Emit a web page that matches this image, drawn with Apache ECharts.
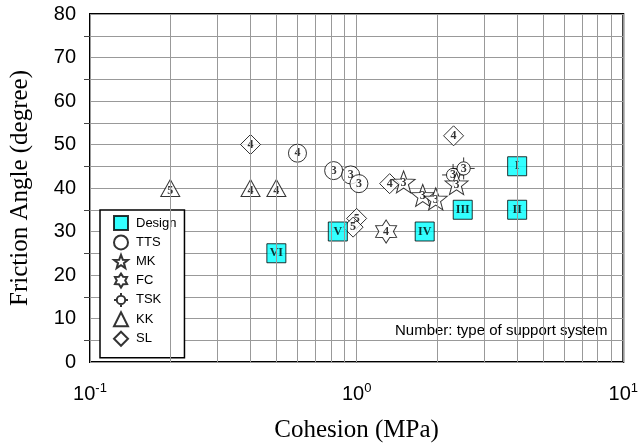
<!DOCTYPE html>
<html>
<head>
<meta charset="utf-8">
<script src="https://cdn.jsdelivr.net/npm/echarts@6/dist/echarts.min.js"></script>
<style>
  html, body { margin: 0; padding: 0; background: #fff; }
  #chart { width: 641px; height: 448px; }
</style>
</head>
<body>
<div id="chart"></div>
<script>
// Cohesion (MPa) vs friction angle (degree) for each support design and method
const designX = [4, 4, 2.5, 1.8, 0.85, 0.5];
const designY = [45, 35, 35, 30, 30, 25];
const designLabel = ['I', 'II', 'III', 'IV', 'V', 'VI'];

const ttsX = [0.6, 0.82, 0.95, 1.02];
const ttsY = [48, 44, 43, 41];
const ttsLabel = ['4', '3', '3', '3'];

const mkX = [1.5, 1.77, 1.98, 2.37];
const mkY = [41.4, 38.3, 37.5, 41];
const mkLabel = ['3', '3', '3', '3'];

const fcX = [1.29];
const fcY = [30];
const fcLabel = ['4'];

const tskX = [2.3, 2.52];
const tskY = [43, 44.5];
const tskLabel = ['3', '3'];

const kkX = [0.2, 0.4, 0.5];
const kkY = [40, 40, 40];
const kkLabel = ['5', '4', '4'];

const slX = [0.4, 2.31, 1.33, 1.0, 0.97];
const slY = [50, 52, 41, 33, 31];
const slLabel = ['4', '4', '4', '5', '5'];

// log-axis minor grid positions
const minorX = [0.2, 0.3, 0.4, 0.5, 0.6, 0.7, 0.8, 0.9, 2, 3, 4, 5, 6, 7, 8, 9];

function pts(xs, ys, ls) {
  return xs.map((x, i) => [x, ys[i], ls[i]]);
}

function starPath(n, rOut, rIn) {
  let d = '';
  for (let i = 0; i < 2 * n; i++) {
    const r = i % 2 === 0 ? rOut : rIn;
    const a = -Math.PI / 2 + i * Math.PI / n;
    d += (i === 0 ? 'M' : 'L') + (r * Math.cos(a)).toFixed(3) + ',' + (r * Math.sin(a)).toFixed(3) + ' ';
  }
  return 'path://' + d + 'Z';
}

const STAR5 = starPath(5, 10, 4.2);
const STAR6 = starPath(6, 10, 6);
const TSK = 'path://M4,10 A6,6 0 1,1 16,10 A6,6 0 1,1 4,10 Z M0,10 L4,10 M16,10 L20,10 M10,0 L10,4 M10,16 L10,20';

const serif = '"Liberation Serif", "Times New Roman", serif';
const sans = 'Arial, "Liberation Sans", sans-serif';

const markerLabel = {
  show: true,
  position: 'inside',
  formatter: p => p.data[2],
  color: '#000',
  fontFamily: serif,
  fontWeight: 'bold',
  fontSize: 12
};
const openStyle = { color: '#fff', borderColor: '#000', borderWidth: 1 };

const chart = echarts.init(document.getElementById('chart'), null, { renderer: 'canvas' });

chart.setOption({
  animation: false,
  backgroundColor: '#fff',
  grid: {
    left: 88, right: 13, top: 14, bottom: 84,
    show: true, borderColor: '#000', borderWidth: 2, backgroundColor: 'transparent'
  },
  xAxis: {
    type: 'log', logBase: 10, min: 0.1, max: 10,
    name: 'Cohesion (MPa)', nameLocation: 'middle', nameGap: 56,
    nameTextStyle: { fontFamily: serif, fontSize: 25, color: '#000' },
    axisLine: { show: false },
    axisTick: { show: false },
    splitLine: { show: true, lineStyle: { color: '#999', width: 1 } },
    axisLabel: {
      margin: 20,
      formatter: v => '{b|10}{s|' + Math.round(Math.log10(v)) + '}',
      rich: {
        b: { fontFamily: sans, fontSize: 20, color: '#000', lineHeight: 24 },
        s: { fontFamily: sans, fontSize: 13, color: '#000', verticalAlign: 'top', lineHeight: 14 }
      }
    }
  },
  yAxis: {
    type: 'value', min: 0, max: 80, interval: 10,
    name: 'Friction Angle (degree)', nameLocation: 'middle', nameGap: 57,
    nameTextStyle: { fontFamily: serif, fontSize: 25, color: '#000' },
    axisLine: { show: false },
    axisTick: { show: false },
    minorTick: { show: true, splitNumber: 2, length: 6, lineStyle: { color: '#444' } },
    splitLine: { show: true, lineStyle: { color: '#999', width: 1 } },
    minorSplitLine: { show: true, lineStyle: { color: '#999', width: 1 } },
    axisLabel: { fontFamily: sans, fontSize: 20, color: '#000', margin: 14 }
  },
  legend: {
    orient: 'vertical', left: 100, top: 210,
    backgroundColor: '#fff', borderColor: '#000', borderWidth: 1.5,
    padding: [5, 8, 11, 13],
    itemWidth: 14, itemHeight: 14, itemGap: 3.4,
    textStyle: { fontFamily: sans, fontSize: 13, color: '#000', lineHeight: 14, padding: [0, 0, 0, 3] },
    data: [
      { name: 'Design', icon: 'rect' },
      { name: 'TTS', icon: 'circle' },
      { name: 'MK', icon: STAR5 },
      { name: 'FC', icon: STAR6 },
      { name: 'TSK', icon: TSK },
      { name: 'KK', icon: 'triangle' },
      { name: 'SL', icon: 'diamond' }
    ]
  },
  graphic: [{
    type: 'text', left: 395, top: 323, silent: true,
    style: { text: 'Number: type of support system', fontFamily: sans, fontSize: 15, fill: '#000' }
  }],
  series: [
    {
      name: 'grid', type: 'scatter', data: [], silent: true, z: 0,
      markLine: {
        silent: true, symbol: 'none', label: { show: false },
        lineStyle: { color: '#999', width: 1, type: 'solid' },
        data: minorX.map(v => ({ xAxis: v }))
      }
    },
    {
      name: 'SL', type: 'scatter', symbol: 'diamond', symbolSize: [20, 20],
      itemStyle: openStyle, label: markerLabel, data: pts(slX, slY, slLabel)
    },
    {
      name: 'KK', type: 'scatter', symbol: 'triangle', symbolSize: [19, 17],
      itemStyle: openStyle, label: Object.assign({}, markerLabel, { offset: [0, 3] }),
      data: pts(kkX, kkY, kkLabel)
    },
    {
      name: 'TSK', type: 'scatter', symbol: TSK, symbolSize: [22, 22],
      itemStyle: openStyle, label: markerLabel, data: pts(tskX, tskY, tskLabel)
    },
    {
      name: 'TTS', type: 'scatter', symbol: 'circle', symbolSize: 18,
      itemStyle: openStyle, label: markerLabel, data: pts(ttsX, ttsY, ttsLabel)
    },
    {
      name: 'FC', type: 'scatter', symbol: STAR6, symbolSize: [21, 23],
      itemStyle: openStyle, label: markerLabel, data: pts(fcX, fcY, fcLabel)
    },
    {
      name: 'MK', type: 'scatter', symbol: STAR5, symbolSize: [23, 22],
      itemStyle: openStyle, label: Object.assign({}, markerLabel, { offset: [0, 1] }),
      data: pts(mkX, mkY, mkLabel)
    },
    {
      name: 'Design', type: 'scatter', symbol: 'rect', symbolSize: 19,
      itemStyle: { color: '#00FFFF', borderColor: '#000', borderWidth: 1 },
      label: Object.assign({}, markerLabel, { fontSize: 12 }),
      data: pts(designX, designY, designLabel)
    }
  ]
});
</script>
</body>
</html>
